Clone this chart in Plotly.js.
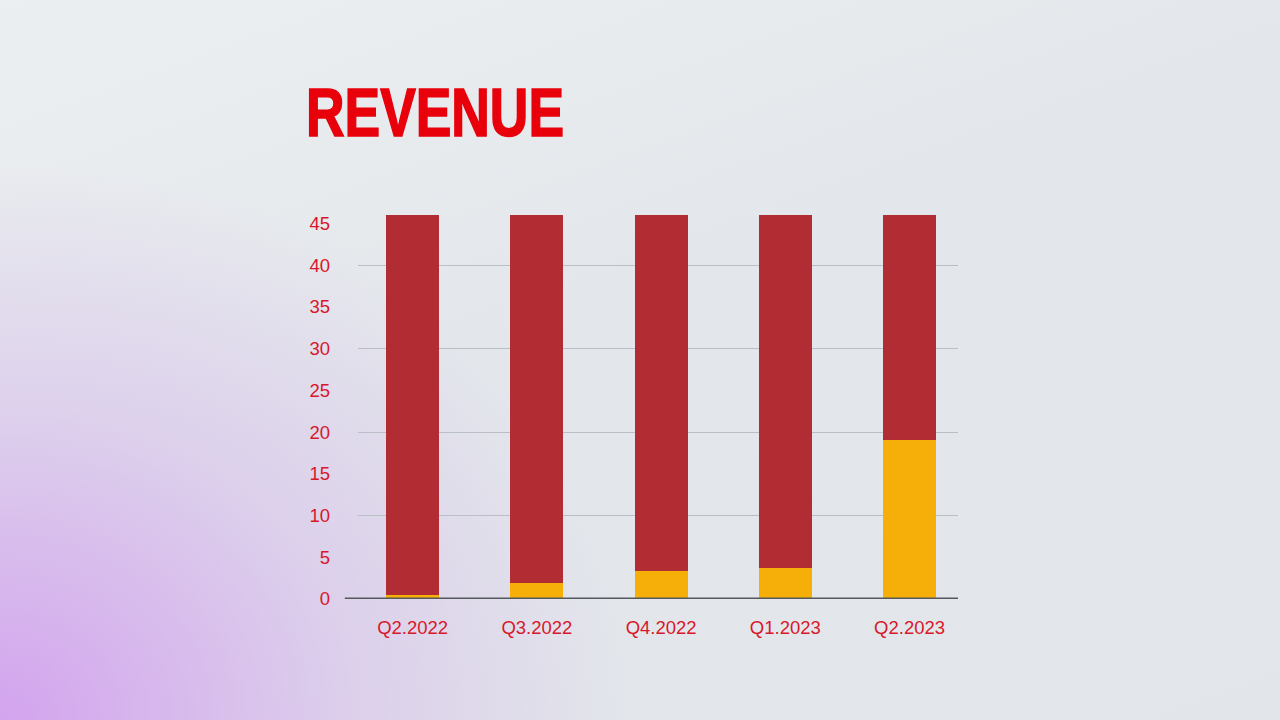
<!DOCTYPE html>
<html>
<head>
<meta charset="utf-8">
<script src="https://cdn.plot.ly/plotly-3.0.1.min.js"></script>
<style>
  html, body { margin: 0; padding: 0; width: 1280px; height: 720px; overflow: hidden; }
  body {
    background:
      radial-gradient(ellipse 640px 560px at 0px 720px, rgba(210,160,238,0.95), rgba(210,172,236,0.4) 55%, rgba(220,210,240,0) 100%),
      linear-gradient(160deg, #eceff1 0%, #e3e7eb 45%, #e2e6ea 100%);
  }
  #chart { width: 1280px; height: 720px; }
</style>
</head>
<body>
<div id="chart"></div>
<script>
// quarters on the x axis
var quarters = ['Q2.2022', 'Q3.2022', 'Q4.2022', 'Q1.2023', 'Q2.2023'];

// yellow segment (bottom) and red segment (top)
var yellowValues = [0.5, 1.9, 3.35, 3.75, 19.1];
var redValues = [45.5, 44.1, 42.65, 42.25, 26.9];

// axis ticks
var yTicks = [0, 5, 10, 15, 20, 25, 30, 35, 40, 45];

var tickRed = '#d8182a';

var data = [
    // a dummy trace so yaxis2 (gridlines) gets drawn
    { x: quarters, y: [null, null, null, null, null], yaxis: 'y2', type: 'scatter', mode: 'lines', hoverinfo: 'skip' },
    { x: quarters, y: yellowValues, type: 'bar', marker: { color: '#f5af08' }, hoverinfo: 'skip' },
    { x: quarters, y: redValues, type: 'bar', marker: { color: '#b22c34' }, hoverinfo: 'skip' }
];

var layout = {
    width: 1280,
    height: 720,
    paper_bgcolor: 'rgba(0,0,0,0)',
    plot_bgcolor: 'rgba(0,0,0,0)',
    margin: { l: 358, r: 322, t: 215, b: 121 },
    showlegend: false,
    barmode: 'stack',
    bargap: 0.573,
    title: {
        text: 'REVENUE',
        font: { family: 'Liberation Sans, Arial, sans-serif', size: 68, weight: 700, color: '#e8000b' },
        xref: 'container', x: 306 / 1280, xanchor: 'left',
        yref: 'container', y: 1 - 112 / 720, yanchor: 'middle'
    },
    xaxis: {
        type: 'category',
        range: [-0.44, 4.39],
        showgrid: false,
        zeroline: false,
        showline: false,
        ticks: '',
        ticklabelstandoff: 15,
        tickfont: { family: 'Liberation Sans, Arial, sans-serif', size: 18.5, color: tickRed },
        fixedrange: true
    },
    yaxis: {
        range: [0, 46],
        tickvals: yTicks,
        showgrid: false,
        zeroline: false,
        showline: false,
        ticks: '',
        ticklabelstandoff: 27,
        tickfont: { family: 'Liberation Sans, Arial, sans-serif', size: 18.5, color: tickRed },
        fixedrange: true
    },
    yaxis2: {
        overlaying: 'y',
        range: [0, 46],
        dtick: 10,
        showgrid: true,
        gridcolor: '#b9bfc5',
        gridwidth: 1,
        zeroline: false,
        showticklabels: false,
        ticks: '',
        fixedrange: true
    },
    shapes: [
        // baseline, sticks out a bit to the left of the plot
        { type: 'line', xref: 'paper', yref: 'y', x0: -0.022, x1: 1, y0: 0, y1: 0,
          line: { color: '#55595d', width: 3 } }
    ]
};

Plotly.newPlot('chart', data, layout, { displayModeBar: false, staticPlot: true }).then(function (gd) {
    // squeeze the title and thicken it to look like the condensed heavy face of the original
    var t = gd.querySelector('.gtitle');
    if (t) {
        t.setAttribute('textLength', 258);
        t.setAttribute('lengthAdjust', 'spacingAndGlyphs');
        t.style.stroke = '#e8000b';
        t.style.strokeWidth = '1.6px';
    }
});
</script>
</body>
</html>
